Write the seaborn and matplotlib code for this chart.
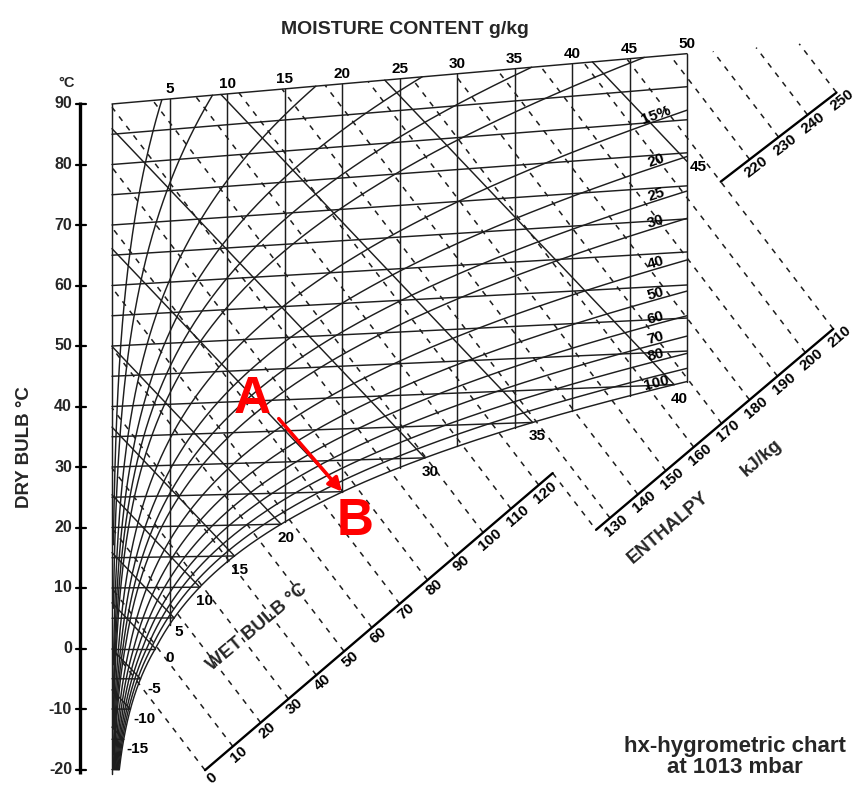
import numpy as np
import pandas as pd
import matplotlib
matplotlib.use('Agg')
import matplotlib.pyplot as plt
import seaborn as sns

# --- 1. CHART VALUES ---
ISOTHERMS = [-20, -15, -10, -5, 0, 5, 10, 15, 20, 25, 30, 35, 40, 45,
             50, 55, 60, 65, 70, 75, 80, 85, 90]                   # dry bulb, °C
MOISTURE = [0, 5, 10, 15, 20, 25, 30, 35, 40, 45, 50]              # g/kg
RH_LEVELS = [1, 2, 4, 6, 8, 10, 15, 20, 25, 30, 40, 50, 60, 70, 80, 90, 100]
RH_LABELS = {15: '15%', 20: '20', 25: '25', 30: '30', 40: '40', 50: '50',
             60: '60', 70: '70', 80: '80', 100: '100'}
WET_BULB = [-15, -10, -5, 0, 5, 10, 15, 20, 25, 30, 35, 40, 45]     # °C
WET_BULB_LABELS = [-15, -10, -5, 0, 5, 10, 15, 20, 30, 35, 40, 45]
ENTHALPY = [0, 10, 20, 30, 40, 50, 60, 70, 80, 90, 100, 110, 120,
            130, 140, 150, 160, 170, 180, 190, 200, 210, 220, 230, 240, 250]  # kJ/kg
DRY_BULB_TICKS = [-20, -10, 0, 10, 20, 30, 40, 50, 60, 70, 80, 90]
PROCESS_NAMES = ['A', 'B']
PROCESS_T = [37, 25]        # °C
PROCESS_X = [14.5, 20.0]    # g/kg

# --- 2. CONFIG ---
P_ATM = 101325.0
T_MAX = 90
X_MAX = 50
WB_SLOPE = 2.0              # drop of the wet bulb lines per g/kg as drawn on this chart
# enthalpy scale pieces: (h start, h end, x start, x end)
H_SCALES = [(0, 125, 8.09, 38.32), (125, 210, 42.09, 62.72), (210, 250, 52.93, 63.0)]
AXIS_X = -2.78              # where the dry bulb ruler stands
LINE = '#1e1e1e'
FONT = ['Liberation Sans', 'DejaVu Sans']

sns.set_theme(style='white')
plt.rcParams['font.family'] = FONT


def p_sat(t):
    T = np.asarray(t, float) + 273.15
    water = np.exp(-5.8002206e3 / T + 1.3914993 - 4.8640239e-2 * T + 4.1764768e-5 * T**2
                   - 1.4452093e-8 * T**3 + 6.5459673 * np.log(T))
    ice = np.exp(-5.6745359e3 / T + 6.3925247 - 9.677843e-3 * T + 6.2215701e-7 * T**2
                 + 2.0747825e-9 * T**3 - 9.484024e-13 * T**4 + 4.1635019 * np.log(T))
    return np.where(T >= 273.15, water, ice)


def moisture(t, phi):
    pv = phi * p_sat(t)
    return 622.0 * pv / (P_ATM - pv)


def chart_y(t, x):
    # Mollier skew: isotherms tilt upwards with moisture content
    return t * (1.006 + 0.00186 * x) / 1.006


def enthalpy_y(h, x):
    return (h - 2.501 * x) / 1.006


T_FINE = np.linspace(-20, 90, 4401)
PS_FINE = p_sat(T_FINE)
X_SAT_FINE = moisture(T_FINE, 1.0)


def t_sat(x):
    return np.interp(x, X_SAT_FINE, T_FINE)


def t_at(x, phi):
    pv = P_ATM * x / (622.0 + x)
    return np.interp(pv / phi, PS_FINE, T_FINE)


# --- 3. BUILD LINE TABLES ---
rows = []
for t in ISOTHERMS:
    x_end = min(float(moisture(t, 1.0)), X_MAX)
    for x in (0.0, x_end):
        rows.append(('iso', t, x, chart_y(t, x)))
for m in MOISTURE:
    t0 = -20.8 if m == 0 else float(t_sat(m))
    rows.append(('mx', m, m, chart_y(t0, m)))
    rows.append(('mx', m, m, chart_y(T_MAX, m)))
for phi in RH_LEVELS:
    t = T_FINE.copy()
    x = moisture(t, phi / 100)
    keep = x >= (0.0 if phi == 100 else 0.12)
    t, x = t[keep], x[keep]
    if x.max() > X_MAX:
        t_end = np.interp(X_MAX, x, t)
        t = np.append(t[t < t_end], t_end)
        x = moisture(t, phi / 100)
    for ti, xi in zip(t, x):
        rows.append(('rh', phi, xi, chart_y(ti, xi)))
wb_end = {}
for tw in WET_BULB:
    xs = float(moisture(tw, 1.0))
    ys = chart_y(tw, xs)
    x0 = min(xs, X_MAX)
    y0 = ys + WB_SLOPE * (xs - x0)
    x1 = max((ys + WB_SLOPE * xs - T_MAX) / (WB_SLOPE + 0.16640), 0.0)
    y1 = ys + WB_SLOPE * (xs - x1)
    wb_end[tw] = (x0, y0)
    rows.append(('wb', tw, x0, y0))
    rows.append(('wb', tw, x1, y1))
solid = pd.DataFrame(rows, columns=['family', 'level', 'x', 'y'])
solid['curve'] = solid['family'] + solid['level'].astype(str)

h_rows = []
h_start = {}
for h in ENTHALPY:
    k = 0 if h < 125 else (1 if h <= 210 else 2)
    hs, he, xs, xe = H_SCALES[k]
    xa = xs + (h - hs) / (he - hs) * (xe - xs)
    h_start[h] = (k, xa, enthalpy_y(h, xa))
    xb = max((h - 1.006 * T_MAX) / (2.501 + 1.006 * 0.16640), 0.0)
    h_rows.append((h, xa, enthalpy_y(h, xa)))
    h_rows.append((h, xb, enthalpy_y(h, xb)))
# link between first and second scale
h_rows.append((125, H_SCALES[0][3], enthalpy_y(125, H_SCALES[0][3])))
h_rows.append((125, H_SCALES[1][2], enthalpy_y(125, H_SCALES[1][2])))
dashed = pd.DataFrame(h_rows, columns=['h', 'x', 'y'])

scale_rows = []
for i, (hs, he, xs, xe) in enumerate(H_SCALES):
    scale_rows.append((i, xs, enthalpy_y(hs, xs)))
    scale_rows.append((i, xe, enthalpy_y(he, xe)))
scales = pd.DataFrame(scale_rows, columns=['scale', 'x', 'y'])

# --- 4. DRAW ---
fig = plt.figure(figsize=(8.59, 7.87), dpi=100)
ax = fig.add_axes([0, 0, 1, 1])
XLIM = (-112 / 11.5, (859 - 112) / 11.5)
YLIM = ((648.5 - 787) / 6.05, 648.5 / 6.05)
ax.set_xlim(*XLIM)
ax.set_ylim(*YLIM)

sns.lineplot(data=dashed, x='x', y='y', units='h', estimator=None, sort=False,
             color=LINE, lw=1.1, linestyle=(0, (3.6, 4.2)), ax=ax, legend=False)
sns.lineplot(data=solid, x='x', y='y', units='curve', estimator=None, sort=False,
             color=LINE, lw=1.05, ax=ax, legend=False)
sns.lineplot(data=scales, x='x', y='y', units='scale', estimator=None, sort=False,
             color='black', lw=1.7, ax=ax, legend=False)

ax.set_xlim(*XLIM)
ax.set_ylim(*YLIM)
ax.set_axis_off()


def px_angle(p0, p1):
    a = ax.transData.transform([p0, p1])
    d = a[1] - a[0]
    return np.degrees(np.arctan2(d[1], d[0]))


num = dict(fontsize=11, fontweight='bold', color='black')

# dry bulb ruler
ax.plot([AXIS_X, AXIS_X], [-20.8, 90.4], color='black', lw=2.4, solid_capstyle='butt')
for t in DRY_BULB_TICKS:
    ax.plot([AXIS_X - 0.35, AXIS_X + 0.55], [t, t], color='black', lw=1.6)
    ax.annotate(str(t), (AXIS_X, t), xytext=(-8, 0), textcoords='offset pixels',
                ha='right', va='center', fontsize=11.5, fontweight='bold')
ax.annotate('°C', (AXIS_X, 90), xytext=(-13, 21), textcoords='offset pixels',
            ha='center', va='center', fontsize=10.5, fontweight='bold')
ax.text(0.029, 0.432, 'DRY BULB °C', transform=ax.transAxes, rotation=90,
        ha='center', va='center', fontsize=13.5, fontweight='bold')

# moisture content labels along the top
for m in MOISTURE[1:]:
    ax.annotate(str(m), (m, chart_y(T_MAX, m)), xytext=(0, 3), textcoords='offset pixels',
                ha='center', va='bottom', **num)
ax.text(0.471, 0.962, 'MOISTURE CONTENT g/kg', transform=ax.transAxes,
        ha='center', va='center', fontsize=14, fontweight='bold')

# relative humidity labels at the right edge
for phi, lab in RH_LABELS.items():
    xl = 47.3
    tl = float(t_at(xl, phi / 100))
    ang = px_angle((46.0, chart_y(t_at(46.0, phi / 100), 46.0)),
                   (48.6, chart_y(t_at(48.6, phi / 100), 48.6)))
    ax.annotate(lab, (xl, chart_y(tl, xl)), xytext=(0, 6), textcoords='offset pixels',
                ha='center', va='center', rotation=ang, rotation_mode='anchor', **num)

# wet bulb labels below the saturation curve
for tw in WET_BULB_LABELS:
    x0, y0 = wb_end[tw]
    if tw == 45:
        off = (11, -6)
    elif tw <= 0:
        off = (14, -10)
    else:
        off = (5, -14)
    ax.annotate(str(tw), (x0, y0), xytext=off, textcoords='offset pixels',
                ha='center', va='center', **num)

# enthalpy scale labels
for h in ENTHALPY:
    k, xa, ya = h_start[h]
    hs, he, xs, xe = H_SCALES[k]
    ang = px_angle((xs, enthalpy_y(hs, xs)), (xe, enthalpy_y(he, xe)))
    r = np.radians(ang)
    off = (3 * np.sin(r), -3 * np.cos(r))
    ax.annotate(str(h), (xa, ya), xytext=off, textcoords='offset pixels',
                ha='center', va='top', rotation=ang, rotation_mode='anchor', **num)

ax.text(0.778, 0.329, 'ENTHALPY', transform=ax.transAxes, rotation=40.5,
        ha='center', va='center', fontsize=13.5, fontweight='bold')
ax.text(0.886, 0.418, 'kJ/kg', transform=ax.transAxes, rotation=40.5,
        ha='center', va='center', fontsize=13.5, fontweight='bold')
ax.text(0.299, 0.203, 'WET BULB °C', transform=ax.transAxes, rotation=40,
        ha='center', va='center', fontsize=13.5, fontweight='bold')
ax.text(0.856, 0.038, 'hx-hygrometric chart\nat 1013 mbar', transform=ax.transAxes,
        ha='center', va='center', fontsize=16, fontweight='bold', linespacing=1.0)

# process A -> B
pts = [(x, chart_y(t, x)) for t, x in zip(PROCESS_T, PROCESS_X)]
ax.annotate('', xy=pts[1], xytext=pts[0],
            arrowprops=dict(arrowstyle='-|>', color='#ff0000', lw=2.6,
                            mutation_scale=20, shrinkA=0, shrinkB=0))
for name, p, off in zip(PROCESS_NAMES, pts, [(-26, 19), (13, -30)]):
    ax.annotate(name, p, xytext=off, textcoords='offset pixels', ha='center', va='center',
                fontsize=37, fontweight='bold', color='#ff0000')

fig.savefig('out.png', dpi=100, facecolor='white')
